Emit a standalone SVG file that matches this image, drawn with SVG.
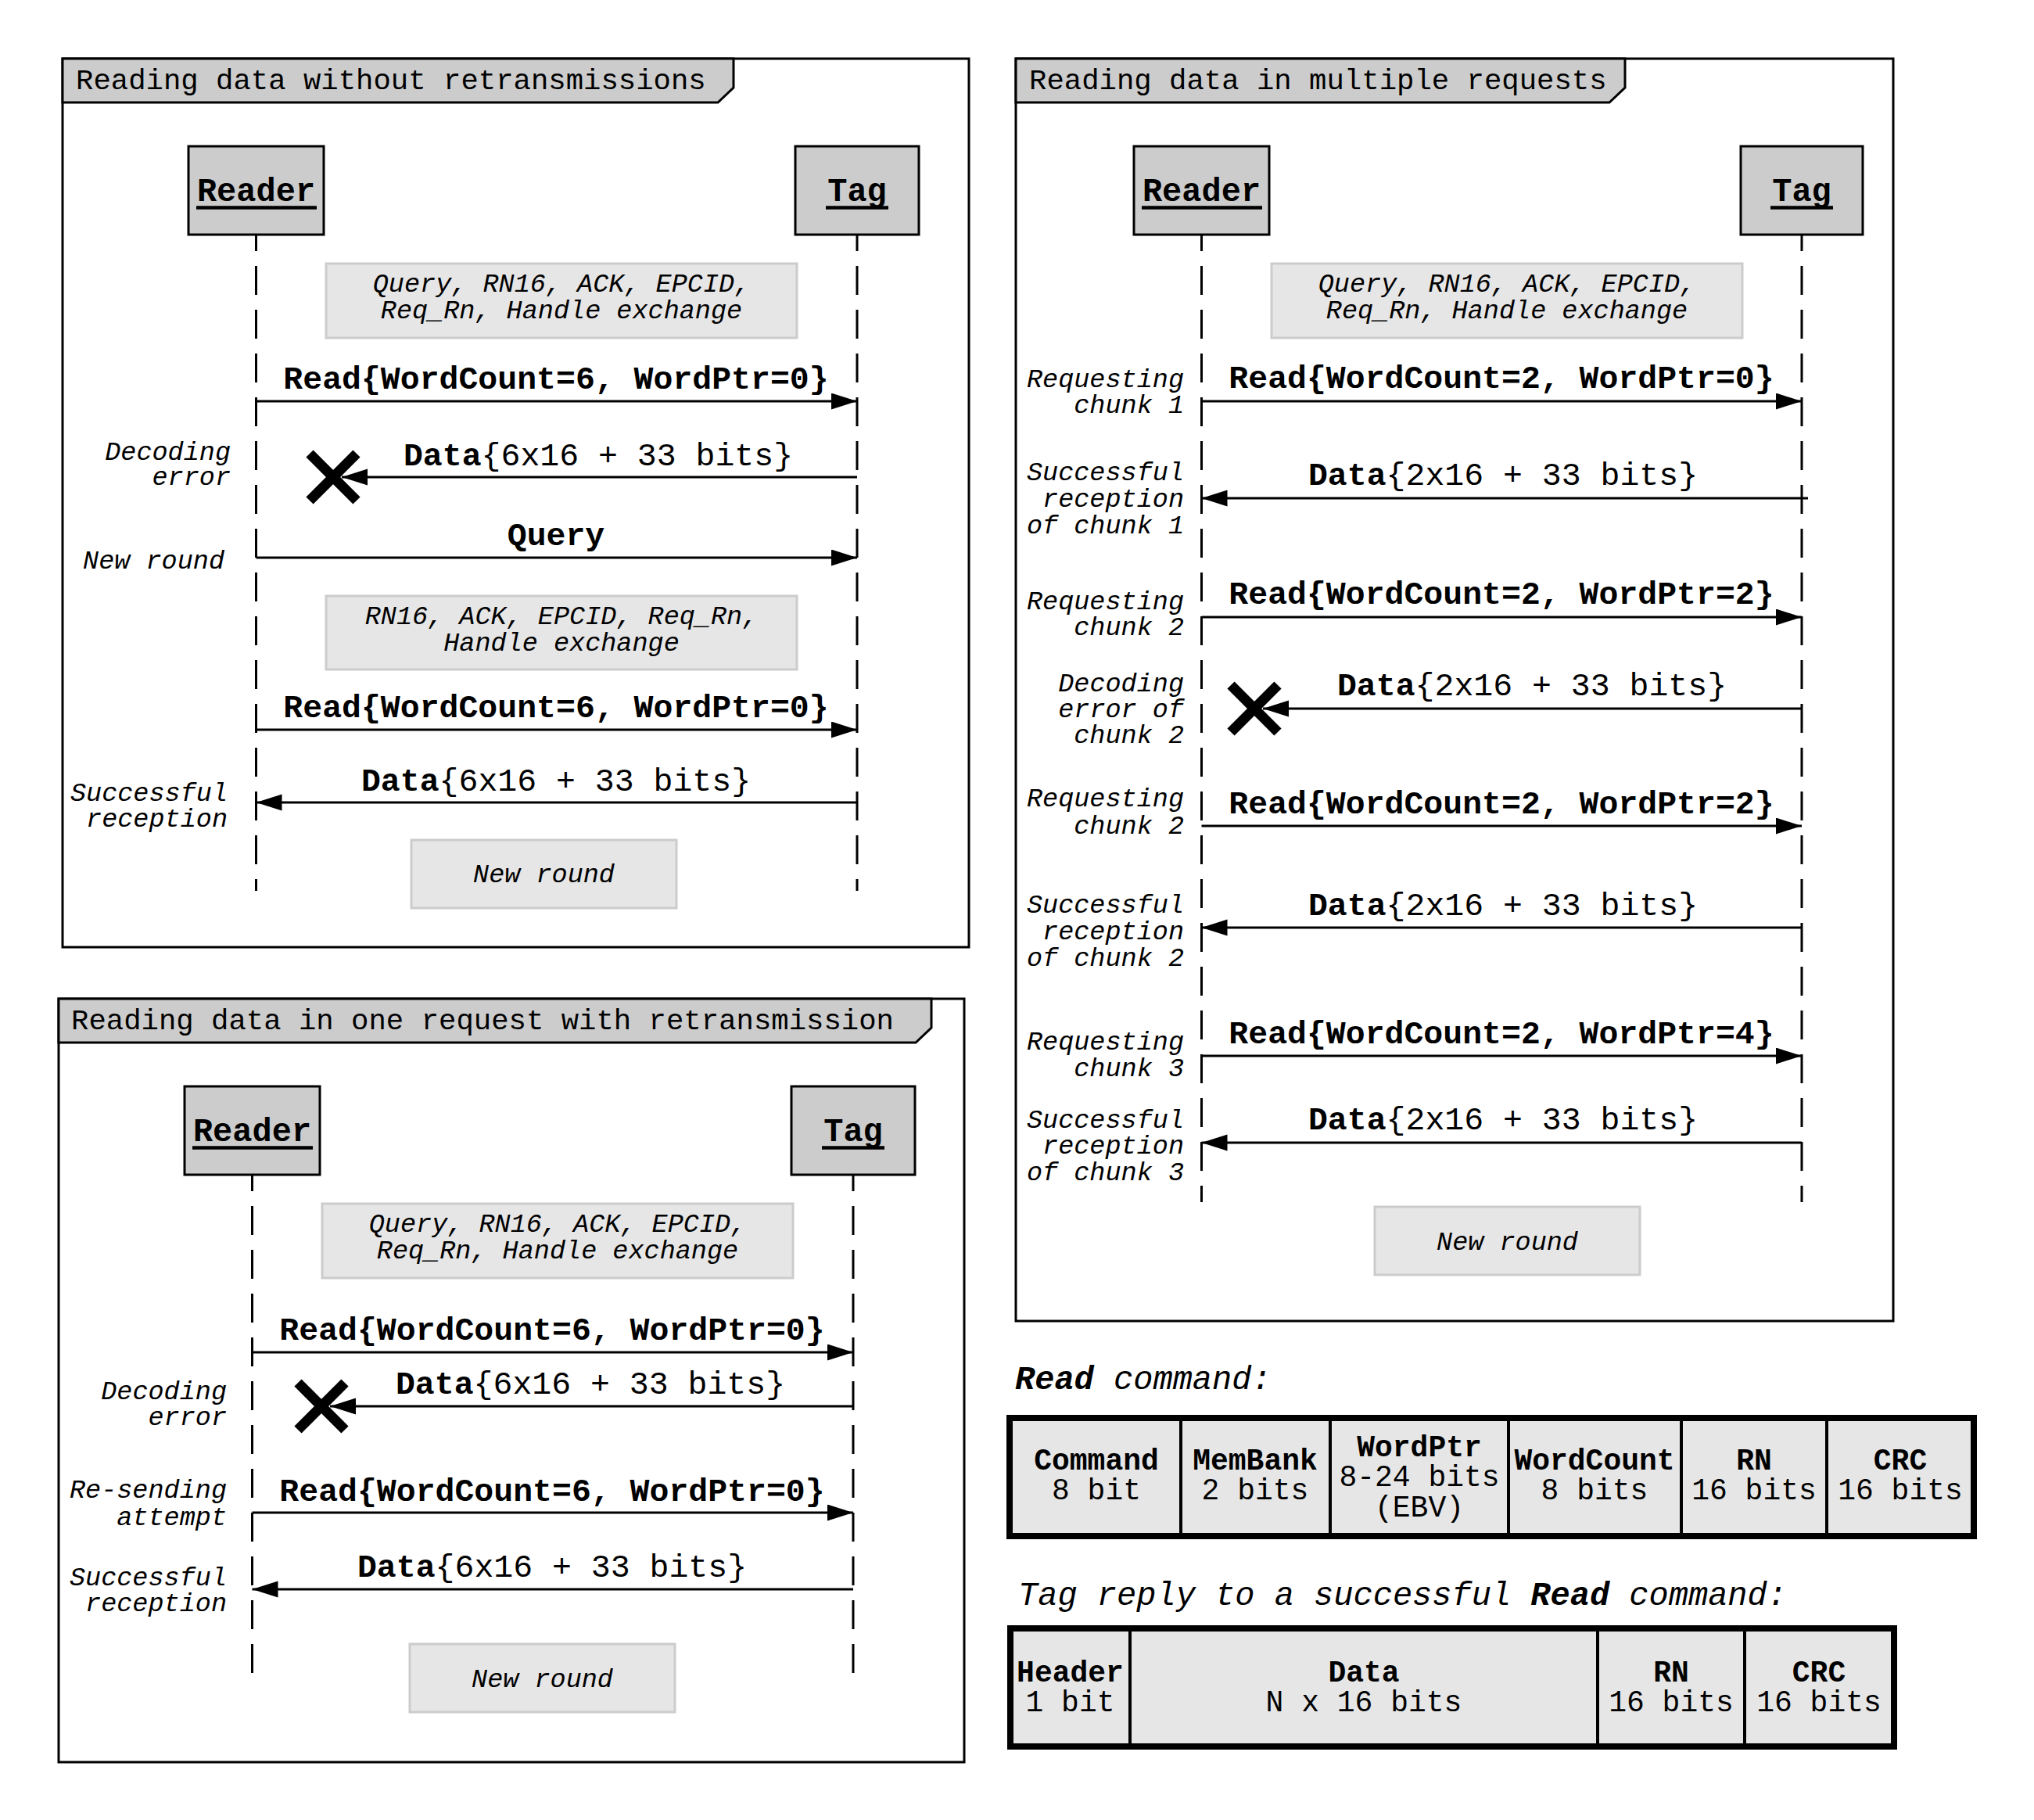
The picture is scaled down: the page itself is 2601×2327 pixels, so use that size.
<svg xmlns="http://www.w3.org/2000/svg" width="2601" height="2327" viewBox="0 0 2601 2327">
<defs>
<style>
text{font-family:"Liberation Mono","DejaVu Sans Mono",monospace;fill:#000}
.title{font-size:37.3px}
.actor{font-size:42px;font-weight:bold;text-anchor:middle}
.msg{font-size:41.5px;font-weight:bold;text-anchor:middle}
.n{font-weight:normal}
.note{font-size:33.5px;font-style:italic;text-anchor:middle}
.lab{font-size:33.5px;font-style:italic;text-anchor:end}
.head{font-size:42px;font-style:italic}
.cb{font-size:38px;font-weight:bold;text-anchor:middle}
.cn{font-size:38px;text-anchor:middle}
.frame{fill:#fff;stroke:#000;stroke-width:3}
.tab{fill:#ccc;stroke:#000;stroke-width:3}
.box{fill:#ccc;stroke:#000;stroke-width:3}
.ul{stroke:#000;stroke-width:4.5}
.notebox{fill:#e6e6e6;stroke:#ccc;stroke-width:3}
.life{stroke:#000;stroke-width:3;stroke-dasharray:37 19;stroke-dashoffset:16;fill:none}
.arr{stroke:#000;stroke-width:3;fill:none;marker-end:url(#ah)}
.xm{stroke:#000;stroke-width:13}
.tbl{fill:#e6e6e6;stroke:#000;stroke-width:8}
.div{stroke:#000;stroke-width:4}
</style>
<marker id="ah" markerUnits="userSpaceOnUse" markerWidth="34" markerHeight="22" refX="33" refY="10.5" orient="auto">
<path d="M0,0 L33,10.5 L0,21 z" fill="#000"/>
</marker>
</defs>
<rect width="2601" height="2327" fill="#fff"/>

<!-- Panel 1 -->
<g id="frame1">
<rect class="frame" x="80" y="75" width="1159" height="1136"/>
<path class="tab" d="M80,75 H938 V112 L918,131 H80 Z"/>
<text class="title" x="97" y="114">Reading data without retransmissions</text>
</g>
<g id="reader1">
<rect class="box" x="241" y="187" width="173" height="113"/>
<text class="actor" x="327.5" y="257">Reader</text>
<line class="ul" x1="251" y1="265.5" x2="405" y2="265.5"/>
</g>
<g id="tag1">
<rect class="box" x="1017" y="187" width="158" height="113"/>
<text class="actor" x="1096" y="257">Tag</text>
<line class="ul" x1="1056" y1="265.5" x2="1136" y2="265.5"/>
</g>
<g id="note1a">
<rect class="notebox" x="417" y="337" width="602" height="95"/>
<text class="note" x="718" y="373">Query, RN16, ACK, EPCID,</text>
<text class="note" x="718" y="407">Req_Rn, Handle exchange</text>
</g>
<g id="note1b">
<rect class="notebox" x="417" y="762" width="602" height="94"/>
<text class="note" x="718" y="798">RN16, ACK, EPCID, Req_Rn,</text>
<text class="note" x="718" y="832">Handle exchange</text>
</g>
<g id="newround1">
<rect class="notebox" x="526" y="1074" width="339" height="87"/>
<text class="note" x="695.5" y="1128">New round</text>
</g>

<!-- Panel 2 -->
<g id="frame2">
<rect class="frame" x="75" y="1277" width="1158" height="976"/>
<path class="tab" d="M75,1277 H1191 V1314 L1171,1333 H75 Z"/>
<text class="title" x="91" y="1316">Reading data in one request with retransmission</text>
</g>
<g id="reader2">
<rect class="box" x="236" y="1389" width="173" height="113"/>
<text class="actor" x="322.5" y="1459">Reader</text>
<line class="ul" x1="246" y1="1467.5" x2="400" y2="1467.5"/>
</g>
<g id="tag2">
<rect class="box" x="1012" y="1389" width="158" height="113"/>
<text class="actor" x="1091" y="1459">Tag</text>
<line class="ul" x1="1051" y1="1467.5" x2="1131" y2="1467.5"/>
</g>
<g id="note2a">
<rect class="notebox" x="412" y="1539" width="602" height="95"/>
<text class="note" x="713" y="1575">Query, RN16, ACK, EPCID,</text>
<text class="note" x="713" y="1609">Req_Rn, Handle exchange</text>
</g>
<g id="newround2">
<rect class="notebox" x="524" y="2102" width="339" height="87"/>
<text class="note" x="693.5" y="2157">New round</text>
</g>

<!-- Panel 3 -->
<g id="frame3">
<rect class="frame" x="1299" y="75" width="1122" height="1614"/>
<path class="tab" d="M1299,75 H2078 V112 L2058,131 H1299 Z"/>
<text class="title" x="1316" y="114">Reading data in multiple requests</text>
</g>
<g id="reader3">
<rect class="box" x="1450" y="187" width="173" height="113"/>
<text class="actor" x="1536.5" y="257">Reader</text>
<line class="ul" x1="1460" y1="265.5" x2="1614" y2="265.5"/>
</g>
<g id="tag3">
<rect class="box" x="2226" y="187" width="156" height="113"/>
<text class="actor" x="2304" y="257">Tag</text>
<line class="ul" x1="2264" y1="265.5" x2="2344" y2="265.5"/>
</g>
<g id="note3a">
<rect class="notebox" x="1626" y="337" width="602" height="95"/>
<text class="note" x="1927" y="373">Query, RN16, ACK, EPCID,</text>
<text class="note" x="1927" y="407">Req_Rn, Handle exchange</text>
</g>
<g id="newround3">
<rect class="notebox" x="1758" y="1543" width="339" height="87"/>
<text class="note" x="1927.5" y="1598">New round</text>
</g>

<!-- Tables -->
<g id="readcmd">
<text class="head" x="1298" y="1776"><tspan font-weight="bold">Read</tspan> command:</text>
<rect class="tbl" x="1291" y="1813" width="1233" height="151"/>
<line class="div" x1="1510" y1="1813" x2="1510" y2="1964"/>
<line class="div" x1="1701" y1="1813" x2="1701" y2="1964"/>
<line class="div" x1="1929" y1="1813" x2="1929" y2="1964"/>
<line class="div" x1="2150" y1="1813" x2="2150" y2="1964"/>
<line class="div" x1="2336" y1="1813" x2="2336" y2="1964"/>
<text class="cb" x="1402" y="1879">Command</text><text class="cn" x="1402" y="1917">8 bit</text>
<text class="cb" x="1605" y="1879">MemBank</text><text class="cn" x="1605" y="1917">2 bits</text>
<text class="cb" x="1815" y="1862">WordPtr</text><text class="cn" x="1815" y="1900">8-24 bits</text><text class="cn" x="1815" y="1939">(EBV)</text>
<text class="cb" x="2039" y="1879">WordCount</text><text class="cn" x="2039" y="1917">8 bits</text>
<text class="cb" x="2243" y="1879">RN</text><text class="cn" x="2243" y="1917">16 bits</text>
<text class="cb" x="2430" y="1879">CRC</text><text class="cn" x="2430" y="1917">16 bits</text>
</g>
<g id="tagreply">
<text class="head" x="1302" y="2052">Tag reply to a successful <tspan font-weight="bold">Read</tspan> command:</text>
<rect class="tbl" x="1292" y="2082" width="1130" height="151"/>
<line class="div" x1="1445" y1="2082" x2="1445" y2="2233"/>
<line class="div" x1="2043" y1="2082" x2="2043" y2="2233"/>
<line class="div" x1="2231" y1="2082" x2="2231" y2="2233"/>
<text class="cb" x="1368.5" y="2150">Header</text><text class="cn" x="1368.5" y="2188">1 bit</text>
<text class="cb" x="1744" y="2150">Data</text><text class="cn" x="1744" y="2188">N x 16 bits</text>
<text class="cb" x="2137" y="2150">RN</text><text class="cn" x="2137" y="2188">16 bits</text>
<text class="cb" x="2326" y="2150">CRC</text><text class="cn" x="2326" y="2188">16 bits</text>
</g>

<g id="connectors">
<!-- panel 1 -->
<line class="life" x1="327.5" y1="300" x2="327.5" y2="1139"/>
<line class="life" x1="1096" y1="300" x2="1096" y2="1139"/>
<path class="arr" d="M327.5,513 H1096"/>
<text class="msg" x="711" y="497">Read{WordCount=6, WordPtr=0}</text>
<path class="arr" d="M1096,610 H437"/>
<g class="xm"><line x1="396" y1="580" x2="456" y2="640"/><line x1="396" y1="640" x2="456" y2="580"/></g>
<text class="msg" x="765" y="595">Data<tspan class="n">{6x16 + 33 bits}</tspan></text>
<path class="arr" d="M327.5,713 H1096"/>
<text class="msg" x="711" y="697">Query</text>
<path class="arr" d="M327.5,933 H1096"/>
<text class="msg" x="711" y="917">Read{WordCount=6, WordPtr=0}</text>
<path class="arr" d="M1096,1026 H327.5"/>
<text class="msg" x="711" y="1011">Data<tspan class="n">{6x16 + 33 bits}</tspan></text>
<text class="lab" x="295" y="588">Decoding</text>
<text class="lab" x="295" y="620">error</text>
<text class="lab" x="287" y="727">New round</text>
<text class="lab" x="291" y="1024">Successful</text>
<text class="lab" x="291" y="1057">reception</text>
<!-- panel 2 -->
<line class="life" x1="322.5" y1="1502" x2="322.5" y2="2140"/>
<line class="life" x1="1091" y1="1502" x2="1091" y2="2140"/>
<path class="arr" d="M322.5,1729 H1091"/>
<text class="msg" x="706" y="1713">Read{WordCount=6, WordPtr=0}</text>
<path class="arr" d="M1091,1798 H422"/>
<g class="xm"><line x1="381" y1="1768" x2="441" y2="1828"/><line x1="381" y1="1828" x2="441" y2="1768"/></g>
<text class="msg" x="755" y="1782">Data<tspan class="n">{6x16 + 33 bits}</tspan></text>
<path class="arr" d="M322.5,1934 H1091"/>
<text class="msg" x="706" y="1919">Read{WordCount=6, WordPtr=0}</text>
<path class="arr" d="M1091,2032 H322.5"/>
<text class="msg" x="706" y="2016">Data<tspan class="n">{6x16 + 33 bits}</tspan></text>
<text class="lab" x="290" y="1789">Decoding</text>
<text class="lab" x="290" y="1822">error</text>
<text class="lab" x="290" y="1915">Re-sending</text>
<text class="lab" x="290" y="1950">attempt</text>
<text class="lab" x="290" y="2027">Successful</text>
<text class="lab" x="290" y="2060">reception</text>
<!-- panel 3 -->
<line class="life" x1="1536.5" y1="300" x2="1536.5" y2="1537"/>
<line class="life" x1="2304" y1="300" x2="2304" y2="1537"/>
<path class="arr" d="M1536.5,513 H2304"/>
<text class="msg" x="1920" y="496">Read{WordCount=2, WordPtr=0}</text>
<path class="arr" d="M2312,637 H1536.5"/>
<text class="msg" x="1922" y="620">Data<tspan class="n">{2x16 + 33 bits}</tspan></text>
<path class="arr" d="M1536.5,789 H2304"/>
<text class="msg" x="1920" y="772">Read{WordCount=2, WordPtr=2}</text>
<path class="arr" d="M2304,906 H1615"/>
<g class="xm"><line x1="1574" y1="876" x2="1634" y2="936"/><line x1="1574" y1="936" x2="1634" y2="876"/></g>
<text class="msg" x="1959" y="889">Data<tspan class="n">{2x16 + 33 bits}</tspan></text>
<path class="arr" d="M1536.5,1056 H2304"/>
<text class="msg" x="1920" y="1040">Read{WordCount=2, WordPtr=2}</text>
<path class="arr" d="M2304,1186 H1536.5"/>
<text class="msg" x="1922" y="1170">Data<tspan class="n">{2x16 + 33 bits}</tspan></text>
<path class="arr" d="M1536.5,1350 H2304"/>
<text class="msg" x="1920" y="1334">Read{WordCount=2, WordPtr=4}</text>
<path class="arr" d="M2304,1461 H1536.5"/>
<text class="msg" x="1922" y="1444">Data<tspan class="n">{2x16 + 33 bits}</tspan></text>
<text class="lab" x="1514" y="495">Requesting</text>
<text class="lab" x="1514" y="528">chunk 1</text>
<text class="lab" x="1514" y="614">Successful</text>
<text class="lab" x="1514" y="648">reception</text>
<text class="lab" x="1514" y="682">of chunk 1</text>
<text class="lab" x="1514" y="779">Requesting</text>
<text class="lab" x="1514" y="812">chunk 2</text>
<text class="lab" x="1514" y="884">Decoding</text>
<text class="lab" x="1514" y="917">error of</text>
<text class="lab" x="1514" y="950">chunk 2</text>
<text class="lab" x="1514" y="1031">Requesting</text>
<text class="lab" x="1514" y="1066">chunk 2</text>
<text class="lab" x="1514" y="1167">Successful</text>
<text class="lab" x="1514" y="1201">reception</text>
<text class="lab" x="1514" y="1235">of chunk 2</text>
<text class="lab" x="1514" y="1342">Requesting</text>
<text class="lab" x="1514" y="1376">chunk 3</text>
<text class="lab" x="1514" y="1442">Successful</text>
<text class="lab" x="1514" y="1475">reception</text>
<text class="lab" x="1514" y="1509">of chunk 3</text>
</g>
</svg>
